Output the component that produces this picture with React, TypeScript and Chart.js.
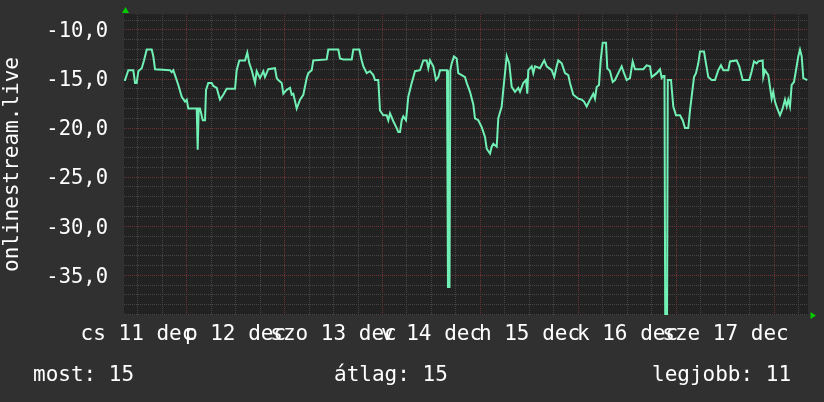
import React, { useEffect, useRef } from 'react';
import { Chart, registerables } from 'chart.js';
Chart.register(...registerables);

// time in hours since Dec 11 00:00
const hours = [
  8.70, 8.94, 9.75, 10.97, 11.39, 11.80, 12.20, 13.03, 13.59, 14.25,
  15.48, 15.87, 16.29, 19.96, 20.38, 20.77, 21.18, 21.99, 22.83, 23.63,
  24.05, 24.44, 26.50, 26.74, 26.99, 27.31, 27.97, 28.53, 28.78, 29.34,
  30.17, 30.56, 31.40, 32.20, 33.01, 33.84, 35.88, 36.29, 36.93, 38.33,
  38.89, 39.38, 39.97, 40.78, 41.19, 42.00, 42.81, 43.22, 44.03, 45.67,
  46.09, 46.48, 47.31, 47.71, 48.54, 49.35, 49.76, 50.16, 50.99, 51.80,
  52.61, 53.44, 53.83, 54.66, 55.05, 58.33, 58.73, 61.18, 61.59, 62.40,
  64.46, 64.85, 66.32, 66.91, 67.30, 68.13, 68.94, 69.75, 70.16, 70.97,
  71.39, 72.20, 73.03, 73.42, 73.84, 74.65, 75.48, 75.87, 76.29, 76.70,
  77.10, 77.76, 78.32, 79.15, 79.96, 81.19, 81.99, 82.83, 83.22, 83.63,
  84.44, 85.10, 85.67, 86.08, 87.80, 88.04, 88.41, 88.61, 88.95, 89.51,
  90.17, 90.56, 91.40, 92.21, 92.62, 93.43, 94.24, 94.65, 95.46, 96.29,
  97.10, 97.52, 98.33, 98.74, 99.14, 99.97, 100.36, 101.19, 101.58, 102.00,
  102.42, 103.05, 103.64, 104.45, 104.86, 105.26, 105.68, 106.48, 107.15, 107.46,
  107.71, 108.54, 108.93, 109.35, 110.57, 111.23, 111.62, 112.21, 113.44, 114.07,
  114.66, 115.05, 115.89, 116.70, 117.50, 117.92, 118.73, 119.96, 120.79, 121.35,
  122.01, 122.82, 123.63, 124.04, 124.46, 125.02, 125.44, 125.93, 126.74, 127.05,
  127.71, 128.38, 128.94, 129.75, 130.58, 130.97, 131.80, 132.61, 133.27, 133.84,
  135.87, 136.70, 137.51, 137.93, 139.15, 139.96, 140.38, 140.77, 141.06, 141.26,
  141.67, 141.87, 142.66, 143.22, 143.88, 144.86, 145.52, 146.08, 146.89, 147.31,
  147.72, 148.29, 148.78, 149.34, 149.76, 150.74, 151.22, 151.79, 152.62, 153.43,
  154.24, 154.90, 155.47, 156.69, 157.10, 158.74, 159.38, 160.21, 161.83, 162.42,
  162.98, 163.64, 164.03, 165.11, 165.26, 165.67, 166.48, 167.31, 167.70, 168.12,
  168.68, 169.35, 170.01, 170.57, 170.99, 171.38, 171.80, 172.21, 172.78, 173.27,
  173.83, 174.25, 174.67, 175.06, 176.04,
];

const values = [
  -15.1, -15.1, -14.1, -14.1, -15.4, -15.4, -14.2, -13.9, -13.1, -12.0,
  -12.0, -12.7, -14.0, -14.1, -14.3, -14.1, -14.6, -15.6, -16.8, -17.3,
  -17.1, -18.0, -18.0, -22.2, -18.0, -18.0, -19.2, -19.2, -16.1, -15.4,
  -15.4, -15.7, -15.9, -17.1, -16.6, -16.0, -16.0, -14.1, -13.1, -13.1,
  -12.3, -13.4, -14.1, -15.4, -14.2, -14.9, -14.2, -14.8, -14.0, -13.9,
  -14.9, -15.1, -15.4, -16.5, -16.1, -15.9, -16.6, -16.5, -18.0, -17.1,
  -16.6, -14.9, -14.4, -14.1, -13.1, -13.0, -12.0, -12.0, -12.9, -13.0,
  -13.0, -12.0, -12.0, -13.1, -13.7, -14.4, -14.2, -14.6, -15.1, -15.1,
  -18.2, -18.7, -18.7, -19.2, -18.5, -19.3, -20.0, -20.4, -20.4, -19.2,
  -18.8, -19.2, -16.8, -15.4, -14.2, -14.1, -13.1, -13.1, -13.9, -13.1,
  -13.7, -15.1, -14.8, -14.1, -14.1, -36.2, -36.2, -14.1, -13.4, -12.7,
  -12.9, -14.4, -14.6, -14.8, -15.4, -16.3, -17.6, -19.0, -19.2, -19.9,
  -20.9, -22.1, -22.6, -21.9, -21.6, -21.9, -19.0, -17.8, -16.1, -14.4,
  -12.65, -13.4, -15.8, -16.3, -16.1, -15.9, -16.3, -15.4, -15.1, -16.5,
  -14.1, -13.7, -14.4, -13.7, -13.9, -13.4, -13.1, -13.7, -14.1, -14.8,
  -13.7, -13.1, -13.4, -14.4, -14.6, -15.4, -16.6, -17.0, -17.1, -17.3,
  -17.8, -17.1, -16.5, -17.0, -15.8, -15.6, -13.1, -11.3, -11.3, -13.9,
  -14.2, -15.3, -15.1, -14.4, -13.7, -14.2, -15.1, -14.9, -13.2, -14.0,
  -14.0, -13.6, -13.7, -14.8, -14.4, -14.0, -14.9, -14.7, -14.7, -42,
  -42, -15.1, -15.1, -17.8, -18.7, -18.7, -19.2, -20.0, -20.0, -18.2,
  -16.8, -14.8, -14.4, -13.4, -12.2, -12.2, -13.4, -14.8, -15.1, -15.1,
  -14.1, -13.6, -14.1, -14.1, -13.2, -13.1, -13.7, -15.1, -15.1, -14.2,
  -13.2, -13.4, -13.2, -13.1, -14.8, -14.1, -14.6, -17.0, -16.3, -17.3,
  -18.0, -18.7, -18.0, -17.1, -17.8, -17.1, -17.8, -15.6, -15.3, -14.1,
  -12.7, -12.0, -12.7, -14.9, -15.1,
];

const dayLabelHours = [12, 36, 60, 84, 108, 132, 156];
const dayLabels = ['cs 11 dec', 'p 12 dec', 'szo 13 dec', 'v 14 dec', 'h 15 dec', 'k 16 dec', 'sze 17 dec'];
const legendTexts = ['most: 15', 'átlag: 15', 'legjobb: 11'];
const axisTitle = 'onlinestream.live';

const X_MIN = 8.69;
const X_MAX = 176.21;
const Y_MIN = -39.05;
const Y_MAX = -8.37;

const FONT = "'DejaVu Sans Mono', monospace";

const bgPlugin = {
  id: 'rrdBg',
  beforeDraw(chart: any) {
    const { ctx, chartArea: a, width, height } = chart;
    ctx.save();
    ctx.fillStyle = '#303030';
    ctx.fillRect(0, 0, width, height);
    ctx.fillStyle = '#222222';
    ctx.fillRect(a.left, a.top, a.right - a.left, a.bottom - a.top);
    ctx.restore();
  },
  afterDraw(chart: any) {
    const { ctx, chartArea: a } = chart;
    ctx.save();
    // axis arrows
    ctx.fillStyle = '#00cc00';
    ctx.beginPath();
    const tx = a.left + 1.5;
    ctx.moveTo(tx, a.top - 7);
    ctx.lineTo(tx + 3.5, a.top - 1);
    ctx.lineTo(tx - 3.5, a.top - 1);
    ctx.closePath();
    ctx.fill();
    const ry = a.bottom + 0.5;
    ctx.beginPath();
    ctx.moveTo(a.right + 8, ry);
    ctx.lineTo(a.right + 2.5, ry - 3.5);
    ctx.lineTo(a.right + 2.5, ry + 3.5);
    ctx.closePath();
    ctx.fill();
    // legend (GPRINT) texts
    ctx.fillStyle = '#ffffff';
    ctx.font = `21px ${FONT}`;
    ctx.textBaseline = 'alphabetic';
    ctx.textAlign = 'left';
    const xs = [33, 334, 652];
    legendTexts.forEach((t, i) => ctx.fillText(t, xs[i], 381));
    ctx.restore();
  },
};

export default function App() {
  const ref = useRef<HTMLCanvasElement>(null);
  useEffect(() => {
    document.body.style.margin = '0';
    const gridHours: number[] = [];
    for (let h = 12; h <= 174; h += 6) gridHours.push(h);
    const yGrid: number[] = [];
    for (let v = -39; v <= -9; v++) yGrid.push(v);

    const chart = new Chart(ref.current as HTMLCanvasElement, {
      type: 'line',
      data: {
        datasets: [
          {
            data: hours.map((h, i) => ({ x: h, y: values[i] })),
            borderColor: '#70f0b4',
            borderWidth: 2,
            pointRadius: 0,
            tension: 0,
            fill: false,
          },
        ],
      },
      options: {
        animation: false,
        responsive: true,
        maintainAspectRatio: false,
        layout: { padding: { top: 14, right: 16, left: 0, bottom: 0 } },
        plugins: { legend: { display: false }, tooltip: { enabled: false } },
        scales: {
          x: {
            type: 'linear',
            min: X_MIN,
            max: X_MAX,
            afterBuildTicks: (s: any) => {
              s.ticks = gridHours.map((v) => ({ value: v }));
            },
            afterFit: (s: any) => {
              s.height = 87;
              s.paddingLeft = 0;
              s.paddingRight = 0;
              s.paddingTop = 0;
              s.paddingBottom = 0;
            },
            ticks: {
              autoSkip: false,
              maxRotation: 0,
              minRotation: 0,
              padding: 7,
              color: '#ffffff',
              font: { family: FONT, size: 21 },
              callback: (v: any) => {
                const i = dayLabelHours.indexOf(Number(v));
                return i >= 0 ? dayLabels[i] : '';
              },
            },
            grid: {
              drawTicks: false,
              lineWidth: 1,
              color: (c: any) => (c.tick && c.tick.value % 24 === 0 ? '#703232' : '#464646'),
            },
            border: { display: false, dash: [1, 1] },
          },
          y: {
            type: 'linear',
            min: Y_MIN,
            max: Y_MAX,
            afterBuildTicks: (s: any) => {
              s.ticks = yGrid.map((v) => ({ value: v }));
            },
            afterFit: (s: any) => {
              s.width = 124;
              s.paddingLeft = 0;
              s.paddingRight = 0;
              s.paddingTop = 0;
              s.paddingBottom = 0;
            },
            ticks: {
              autoSkip: false,
              padding: 16,
              labelOffset: 2,
              color: '#ffffff',
              font: { family: FONT, size: 20.5 },
              callback: (v: any) => (Math.abs(Number(v)) % 5 === 0 ? Number(v).toFixed(1).replace('.', ',') : ''),
            },
            grid: {
              drawTicks: false,
              lineWidth: 1,
              color: (c: any) => (c.tick && Math.abs(c.tick.value) % 5 === 0 ? '#703232' : '#464646'),
            },
            border: { display: false, dash: [1, 1] },
            title: {
              display: true,
              text: axisTitle,
              color: '#ffffff',
              font: { family: FONT, size: 21, lineHeight: 1.2 },
              padding: 0,
            },
          },
        },
      },
      plugins: [bgPlugin],
    });
    return () => chart.destroy();
  }, []);

  return (
    <div style={{ width: 824, height: 402, position: 'relative' }}>
      <canvas ref={ref} />
    </div>
  );
}
